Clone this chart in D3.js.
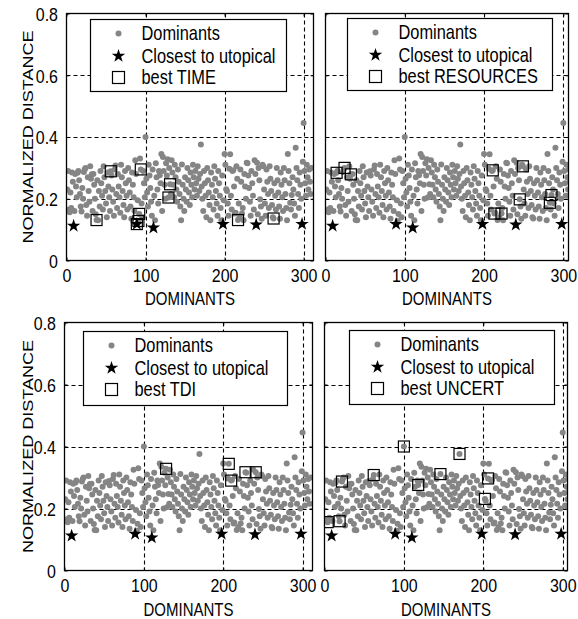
<!DOCTYPE html>
<html>
<head>
<meta charset="utf-8">
<script src="https://cdn.jsdelivr.net/npm/d3@7"></script>
<style>
  html, body { margin: 0; padding: 0; background: #fff; }
  svg { display: block; }
  text { font-family: "Liberation Sans", Arial, sans-serif; fill: #000; }
</style>
</head>
<body>
<div id="chart"></div>
<script>
// ---------------- DATA ----------------
// normalized distance of each dominant solution (index 1..310)
const dominants = [
  0.23, 0.29, 0.165, 0.156, 0.22, 0.17, 0.285, 0.255, 0.112, 0.16,
  0.28, 0.24, 0.205, 0.284, 0.29, 0.26, 0.215, 0.175, 0.159, 0.235,
  0.20, 0.287, 0.295, 0.300, 0.18, 0.145, 0.27, 0.225, 0.19, 0.305,
  0.265, 0.279, 0.16, 0.28, 0.245, 0.20, 0.15, 0.131, 0.26, 0.13,
  0.225, 0.175, 0.29, 0.25, 0.21, 0.165, 0.305, 0.27, 0.225, 0.185,
  0.14, 0.285, 0.24, 0.205, 0.16, 0.289, 0.275, 0.23, 0.19, 0.145,
  0.295, 0.308, 0.215, 0.17, 0.28, 0.24, 0.205, 0.155, 0.31, 0.27,
  0.225, 0.18, 0.14, 0.29, 0.25, 0.21, 0.165, 0.30, 0.26, 0.22,
  0.175, 0.135, 0.285, 0.245, 0.205, 0.16, 0.325, 0.28, 0.118, 0.195,
  0.128, 0.151, 0.33, 0.295, 0.185, 0.14, 0.29, 0.25, 0.205, 0.40,
  0.265, 0.22, 0.175, 0.31, 0.275, 0.235, 0.19, 0.145, 0.295, 0.106,
  0.21, 0.13, 0.315, 0.27, 0.23, 0.185, 0.29, 0.276, 0.25, 0.345,
  0.16, 0.335, 0.29, 0.245, 0.20, 0.315, 0.275, 0.328, 0.204, 0.30,
  0.247, 0.215, 0.325, 0.285, 0.245, 0.205, 0.31, 0.27, 0.23, 0.19,
  0.295, 0.255, 0.215, 0.175, 0.13, 0.311, 0.245, 0.20, 0.16, 0.27,
  0.23, 0.19, 0.30, 0.26, 0.22, 0.18, 0.285, 0.245, 0.205, 0.31,
  0.27, 0.23, 0.29, 0.25, 0.21, 0.305, 0.265, 0.225, 0.28, 0.376,
  0.24, 0.20, 0.16, 0.29, 0.25, 0.21, 0.14, 0.30, 0.26, 0.22,
  0.18, 0.13, 0.285, 0.245, 0.205, 0.165, 0.305, 0.265, 0.225, 0.185,
  0.145, 0.29, 0.25, 0.21, 0.17, 0.13, 0.275, 0.118, 0.195, 0.345,
  0.31, 0.231, 0.225, 0.185, 0.145, 0.297, 0.344, 0.21, 0.165, 0.29,
  0.292, 0.24, 0.152, 0.155, 0.305, 0.265, 0.131, 0.185, 0.14, 0.295,
  0.255, 0.152, 0.17, 0.13, 0.28, 0.24, 0.20, 0.317, 0.315, 0.275,
  0.235, 0.19, 0.145, 0.29, 0.25, 0.21, 0.165, 0.325, 0.28, 0.116,
  0.317, 0.15, 0.30, 0.26, 0.198, 0.175, 0.135, 0.31, 0.305, 0.23,
  0.185, 0.145, 0.295, 0.255, 0.215, 0.17, 0.305, 0.265, 0.225, 0.18,
  0.14, 0.136, 0.25, 0.21, 0.165, 0.30, 0.26, 0.22, 0.175, 0.135,
  0.285, 0.245, 0.205, 0.16, 0.30, 0.26, 0.215, 0.17, 0.13, 0.345,
  0.29, 0.25, 0.187, 0.165, 0.212, 0.27, 0.23, 0.185, 0.145, 0.365,
  0.30, 0.26, 0.215, 0.17, 0.285, 0.245, 0.20, 0.118, 0.32, 0.445,
  0.29, 0.25, 0.21, 0.31, 0.27, 0.23, 0.295, 0.255, 0.215, 0.30
];
// indices (1-based) of the solutions closest to the utopical point
const closestIdx = [9, 89, 110, 198, 240, 298];
// indices of the best solutions for each criterion
const bestTimeIdx = [38, 56, 89, 91, 92, 94, 129, 131, 217, 262];
const bestResourcesIdx = [14, 24, 32, 211, 213, 222, 245, 249, 283, 285];
const bestTdiIdx = [128, 207, 210, 228, 241];
const bestUncertIdx = [4, 19, 22, 62, 100, 118, 146, 170, 202, 206];

const legendLabels = ["Dominants", "Closest to utopical"];
const criterionLabels = ["best TIME", "best RESOURCES", "best TDI", "best UNCERT"];
const xTicks = [0, 100, 200, 300];
const yTicks = [0, 0.2, 0.4, 0.6, 0.8];
const xGridVals = [100, 200, 300];
const yGridVals = [0.2, 0.4, 0.6];
const xLabel = "DOMINANTS";
const yLabel = "NORMALIZED DISTANCE";

// ---------------- LAYOUT ----------------
const W = 578, H = 619;
const layout = [
  {best: bestTimeIdx,      label: criterionLabels[0], left: 66.5,  right: 313.5, top: 13.5,  bottom: 260.5, xmax: 312.5, yLab: true,
   lg: {x: 90.5, y: 19.5, w: 196, h: 72}},
  {best: bestResourcesIdx, label: criterionLabels[1], left: 325.5, right: 568.5, top: 13.5,  bottom: 260.5, xmax: 306.5, yLab: false,
   lg: {x: 347.5, y: 18.5, w: 205, h: 72}},
  {best: bestTdiIdx,       label: criterionLabels[2], left: 64.5,  right: 312.5, top: 322.5, bottom: 570.5, xmax: 312.5, yLab: true,
   lg: {x: 83.5, y: 331.5, w: 204, h: 74}},
  {best: bestUncertIdx,    label: criterionLabels[3], left: 324.5, right: 567.5, top: 322.5, bottom: 570.5, xmax: 306,   yLab: false,
   lg: {x: 349.5, y: 330.5, w: 205, h: 74}}
];
const VS = 1.18; // vertical stretch of text in the original figure

const svg = d3.select("#chart").append("svg")
  .attr("width", W).attr("height", H);
svg.append("rect").attr("width", W).attr("height", H).attr("fill", "#fff");

const dotColor = "#858585";
const dotR = 3;
const starSym = d3.symbol().type(d3.symbolStar).size(56);

layout.forEach((p, pi) => {
  const x = d3.scaleLinear().domain([0, p.xmax]).range([p.left, p.right]);
  const y = d3.scaleLinear().domain([0, 0.8]).range([p.bottom, p.top]);
  const g = svg.append("g");

  const clipId = "clip" + pi;
  svg.append("clipPath").attr("id", clipId).append("rect")
    .attr("x", p.left).attr("y", p.top - 6)
    .attr("width", p.right - p.left).attr("height", p.bottom - p.top + 6);

  // grid
  g.selectAll(".gx").data(xGridVals).join("line")
    .attr("x1", d => Math.round(x(d)) + 0.5).attr("x2", d => Math.round(x(d)) + 0.5)
    .attr("y1", p.top).attr("y2", p.bottom)
    .attr("stroke", "#000").attr("stroke-width", 1.1).attr("stroke-dasharray", "4,3");
  g.selectAll(".gy").data(yGridVals).join("line")
    .attr("y1", d => Math.round(y(d)) + 0.5).attr("y2", d => Math.round(y(d)) + 0.5)
    .attr("x1", p.left).attr("x2", p.right)
    .attr("stroke", "#000").attr("stroke-width", 1.1).attr("stroke-dasharray", "4,3");

  // axes (ticks inside)
  const axB = g.append("g").attr("transform", `translate(0,${p.bottom})`)
    .call(d3.axisBottom(x).tickValues(xTicks).tickSize(-3).tickPadding(0));
  const axT = g.append("g").attr("transform", `translate(0,${p.top})`)
    .call(d3.axisTop(x).tickValues(xTicks).tickSize(-3).tickFormat(""));
  const axL = g.append("g").attr("transform", `translate(${p.left},0)`)
    .call(d3.axisLeft(y).tickValues(yTicks).tickSize(-3).tickFormat(p.yLab ? d3.format("") : ""));
  const axR = g.append("g").attr("transform", `translate(${p.right},0)`)
    .call(d3.axisRight(y).tickValues(yTicks).tickSize(-3).tickFormat(""));
  [axB, axT, axL, axR].forEach(a => {
    a.select(".domain").remove();
    a.selectAll(".tick line").attr("stroke", "#000");
  });
  axB.selectAll(".tick text")
    .attr("y", null).attr("dy", null)
    .attr("transform", `translate(0,21.5) scale(1,${VS})`)
    .attr("font-size", 16).attr("font-family", '"Liberation Sans", Arial, sans-serif')
    .attr("fill", "#000");
  axL.selectAll(".tick text")
    .attr("x", null).attr("dy", null)
    .attr("transform", `translate(-8.5,6.8) scale(1,${VS})`)
    .attr("font-size", 16).attr("font-family", '"Liberation Sans", Arial, sans-serif')
    .attr("fill", "#000");

  // data
  const pts = g.append("g").attr("clip-path", `url(#${clipId})`);
  pts.selectAll("circle").data(dominants.map((v, i) => [i + 1, v])).join("circle")
    .attr("cx", d => x(d[0])).attr("cy", d => y(d[1])).attr("r", dotR)
    .attr("fill", dotColor);
  pts.selectAll(".star").data(closestIdx).join("path").attr("class", "star")
    .attr("d", starSym)
    .attr("transform", d => `translate(${x(d)},${y(dominants[d - 1])})`)
    .attr("fill", "#000");
  pts.selectAll(".sq").data(p.best).join("rect").attr("class", "sq")
    .attr("x", d => x(d) - 5.5).attr("y", d => y(dominants[d - 1]) - 5.5)
    .attr("width", 11).attr("height", 11)
    .attr("fill", "none").attr("stroke", "#000").attr("stroke-width", 1.2);

  // frame
  g.append("rect").attr("x", p.left).attr("y", p.top)
    .attr("width", p.right - p.left).attr("height", p.bottom - p.top)
    .attr("fill", "none").attr("stroke", "#000").attr("stroke-width", 1.3);

  // legend
  const L = p.lg;
  const lg = g.append("g");
  lg.append("rect").attr("x", L.x).attr("y", L.y).attr("width", L.w).attr("height", L.h)
    .attr("fill", "#fff").attr("stroke", "#000").attr("stroke-width", 1.2);
  const rows = [L.y + 14, L.y + 36.5, L.y + 58];
  const mx = L.x + 28, tx = L.x + 51;
  lg.append("circle").attr("cx", mx).attr("cy", rows[0]).attr("r", dotR).attr("fill", dotColor);
  lg.append("path").attr("d", starSym).attr("transform", `translate(${mx},${rows[1]})`).attr("fill", "#000");
  lg.append("rect").attr("x", mx - 6).attr("y", rows[2] - 6).attr("width", 12).attr("height", 12)
    .attr("fill", "none").attr("stroke", "#000").attr("stroke-width", 1.2);
  const labs = [legendLabels[0], legendLabels[1], p.label];
  labs.forEach((t, i) => {
    lg.append("text").attr("transform", `translate(${tx},${rows[i] + 6.8}) scale(1,${VS})`)
      .attr("font-size", 16.4).text(t);
  });

  // axis labels
  const topRow = pi < 2;
  g.append("text")
    .attr("transform", `translate(${(p.left + p.right) / 2},${topRow ? 305 : 616}) scale(1,${VS})`)
    .attr("text-anchor", "middle").attr("font-size", 15).text(xLabel);
  if (p.yLab) {
    g.append("text")
      .attr("transform", `translate(33,${(p.top + p.bottom) / 2}) scale(1,${VS * 1.02}) rotate(-90)`)
      .attr("text-anchor", "middle").attr("font-size", 15).text(yLabel);
  }
});
</script>
</body>
</html>
